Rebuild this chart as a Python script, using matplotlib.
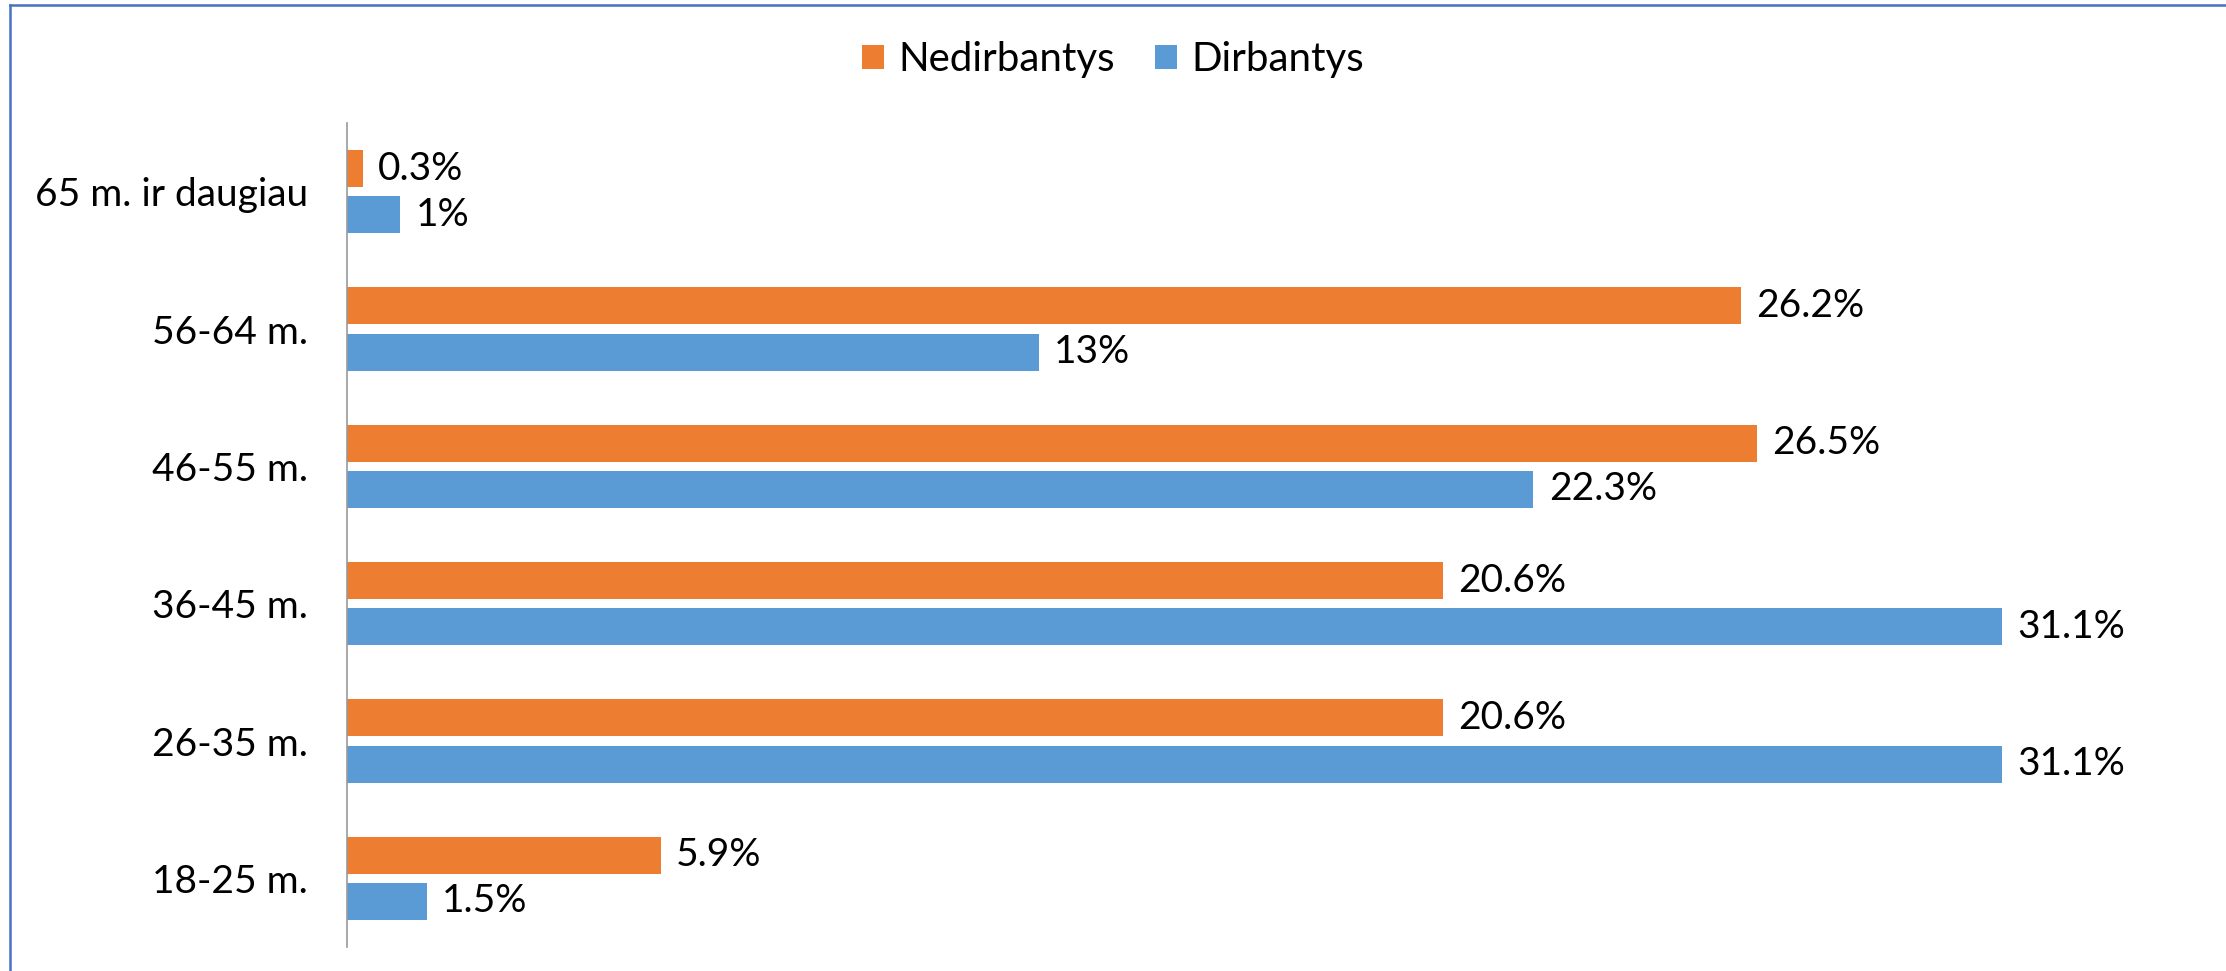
import matplotlib
matplotlib.use('Agg')
import matplotlib.pyplot as plt
from matplotlib.lines import Line2D
import numpy as np

plt.rcParams['font.family'] = ['Lato', 'DejaVu Sans']

# age groups, bottom to top
groups = ['18-25 m.', '26-35 m.', '36-45 m.', '46-55 m.', '56-64 m.', '65 m. ir daugiau']
nedirbantys = [5.9, 20.6, 20.6, 26.5, 26.2, 0.3]
dirbantys = [1.5, 31.1, 31.1, 22.3, 13, 1]
nedirb_labels = ['5.9%', '20.6%', '20.6%', '26.5%', '26.2%', '0.3%']
dirb_labels = ['1.5%', '31.1%', '31.1%', '22.3%', '13%', '1%']

orange = '#ED7D31'
blue = '#5B9BD5'

W, H = 2226, 971
fig = plt.figure(figsize=(W / 100, H / 100), dpi=100)
ax = fig.add_axes([347 / W, 1 - 947 / H, 1862 / W, 824 / H])

y = np.arange(len(groups))
h = 0.27
off = 0.168
b1 = ax.barh(y + off, nedirbantys, height=h, color=orange, label='Nedirbantys')
b2 = ax.barh(y - off, dirbantys, height=h, color=blue, label='Dirbantys')

fs = 28
for bars, labs in ((b1, nedirb_labels), (b2, dirb_labels)):
    for bar, lab in zip(bars, labs):
        ax.annotate(lab, (bar.get_width(), bar.get_y() + bar.get_height() / 2),
                    xytext=(11, 0), textcoords='offset points',
                    va='center', ha='left', fontsize=fs)

ax.set_xlim(0, 35)
ax.set_ylim(-0.5, len(groups) - 0.5)
ax.set_yticks(y)
ax.set_yticklabels(groups, fontsize=fs)
ax.tick_params(axis='y', length=0, pad=28)
ax.set_xticks([])
for s in ['top', 'right', 'bottom']:
    ax.spines[s].set_visible(False)
ax.spines['left'].set_color('#999999')
ax.spines['left'].set_linewidth(1.2)

fig.legend(handles=[b1, b2], loc='center', bbox_to_anchor=(0.5, 1 - 60 / H),
           ncol=2, frameon=False, fontsize=29, handlelength=0.55, handleheight=0.55,
           handletextpad=0.35, columnspacing=1.0)

# chart frame (only top and left edges visible)
fig.add_artist(Line2D([10 / W, 1], [1 - 5 / H, 1 - 5 / H], color='#4472C4', lw=1.8,
                      transform=fig.transFigure))
fig.add_artist(Line2D([10 / W, 10 / W], [0, 1 - 5 / H], color='#4472C4', lw=1.8,
                      transform=fig.transFigure))

fig.savefig('out.png', dpi=100)
